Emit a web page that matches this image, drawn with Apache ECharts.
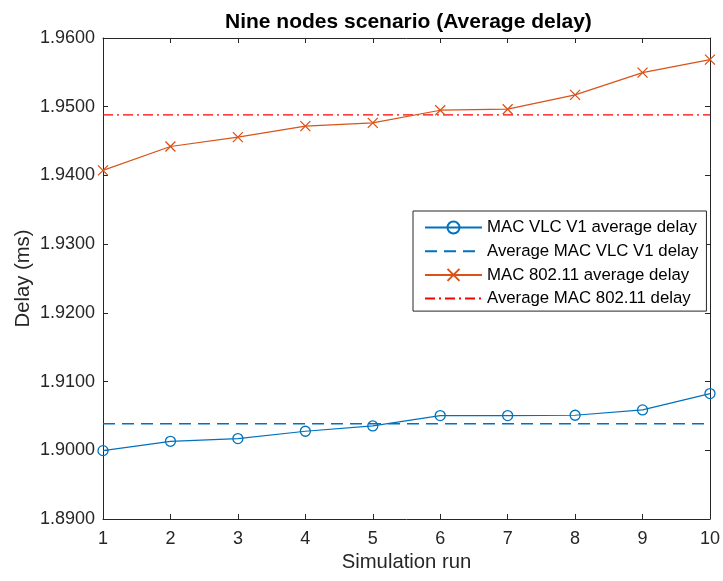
<!DOCTYPE html>
<html>
<head>
<meta charset="utf-8">
<script src="https://cdn.jsdelivr.net/npm/echarts@6/dist/echarts.min.js"></script>
<style>
html,body{margin:0;padding:0;background:#fff;}
#chart{width:723px;height:581px;}
</style>
</head>
<body>
<div id="chart"></div>
<script>
var runs = [1, 2, 3, 4, 5, 6, 7, 8, 9, 10];
var vlcDelay = [1.89995, 1.90131, 1.90170, 1.90277, 1.90354, 1.90505, 1.90505, 1.90510, 1.90587, 1.90825];
var wifiDelay = [1.94073, 1.94421, 1.94557, 1.94717, 1.94765, 1.94949, 1.94964, 1.95172, 1.95496, 1.95685];
var vlcAvg = 1.90386;
var wifiAvg = 1.94880;
var seriesNames = ['MAC VLC V1 average delay', 'Average MAC VLC V1 delay', 'MAC 802.11 average delay', 'Average MAC 802.11 delay'];

var FONT = 'Liberation Sans, Arial, Helvetica, sans-serif';
var AX = '#262626';

function pairs(xs, ys) { return xs.map(function (x, i) { return [x, ys[i]]; }); }
function flat(xs, v) { return [[xs[0], v], [xs[xs.length - 1], v]]; }

var chart = echarts.init(document.getElementById('chart'), null, {renderer: 'canvas'});
var axisCommon = {
  axisLine: {show: true, lineStyle: {color: AX, width: 1}},
  axisTick: {show: true, inside: true, length: 5, lineStyle: {color: AX}},
  splitLine: {show: false}
};
chart.setOption({
  animation: false,
  backgroundColor: '#fff',
  title: {
    text: 'Nine nodes scenario (Average delay)',
    left: 220, top: 7,
    textStyle: {fontFamily: FONT, fontSize: 21, fontWeight: 'bold', color: '#000'}
  },
  grid: {left: 103, right: 13, top: 38, bottom: 62, containLabel: false},
  legend: {
    data: seriesNames,
    orient: 'vertical',
    left: 413, top: 211,
    padding: [8, 8, 4, 11],
    itemWidth: 57, itemHeight: 15, itemGap: 6.7, itemTextGap: 6,
    backgroundColor: '#fff',
    borderColor: AX, borderWidth: 1, borderRadius: 0,
    textStyle: {fontFamily: FONT, fontSize: 16.8, color: '#000'}
  },
  xAxis: [
    Object.assign({
      type: 'value', min: 1, max: 10, interval: 1, position: 'bottom',
      name: 'Simulation run', nameLocation: 'middle', nameGap: 33, nameMoveOverlap: false,
      nameTextStyle: {fontFamily: FONT, fontSize: 20.3, color: AX},
      axisLabel: {fontFamily: FONT, fontSize: 18, color: AX, margin: 11}
    }, axisCommon),
    Object.assign({
      type: 'value', min: 1, max: 10, interval: 1, position: 'top',
      axisLabel: {show: false}
    }, axisCommon)
  ],
  yAxis: [
    Object.assign({
      type: 'value', min: 1.89, max: 1.96, interval: 0.01, position: 'left',
      name: 'Delay (ms)', nameLocation: 'middle', nameGap: 70, nameMoveOverlap: false,
      nameTextStyle: {fontFamily: FONT, fontSize: 20.3, color: AX},
      axisLabel: {fontFamily: FONT, fontSize: 18, color: AX, margin: 8,
        formatter: function (v) { return v.toFixed(4); }}
    }, axisCommon),
    Object.assign({
      type: 'value', min: 1.89, max: 1.96, interval: 0.01, position: 'right',
      axisLabel: {show: false}
    }, axisCommon)
  ],
  series: [
    {
      name: seriesNames[0], type: 'line', data: pairs(runs, vlcDelay),
      symbol: 'circle', symbolSize: 10, showAllSymbol: true,
      lineStyle: {color: '#0072BD', width: 1.2},
      itemStyle: {color: 'rgba(0,0,0,0)', borderColor: '#0072BD', borderWidth: 1.3},
      z: 3
    },
    {
      name: seriesNames[1], type: 'line', data: flat(runs, vlcAvg),
      symbol: 'circle', showSymbol: false,
      lineStyle: {color: '#0072BD', width: 1.3, type: [12, 7]},
      itemStyle: {color: 'rgba(0,0,0,0)', borderWidth: 0},
      z: 2
    },
    {
      name: seriesNames[2], type: 'line', data: pairs(runs, wifiDelay),
      symbol: 'path://M0,0L10,10M10,0L0,10', symbolSize: 10, showAllSymbol: true,
      lineStyle: {color: '#D95319', width: 1.2},
      itemStyle: {color: 'rgba(0,0,0,0)', borderColor: '#D95319', borderWidth: 1.3},
      z: 3
    },
    {
      name: seriesNames[3], type: 'line', data: flat(runs, wifiAvg),
      symbol: 'circle', showSymbol: false,
      lineStyle: {color: '#FF0000', width: 1.3, type: [10, 4, 2, 4]},
      itemStyle: {color: 'rgba(0,0,0,0)', borderWidth: 0},
      z: 2
    }
  ]
});
</script>
</body>
</html>
